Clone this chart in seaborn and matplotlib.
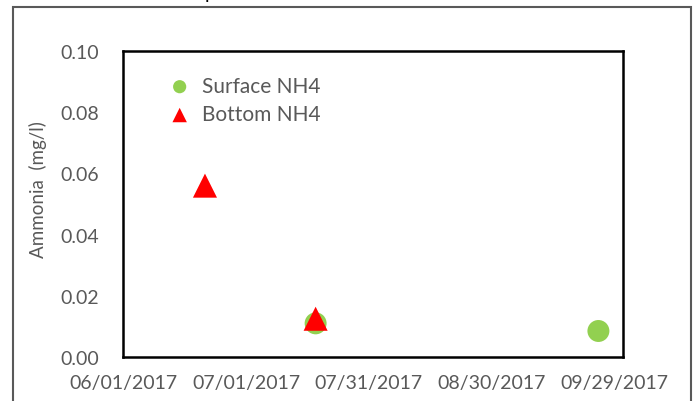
import pandas as pd
import seaborn as sns
import matplotlib.pyplot as plt
import matplotlib.dates as mdates
from matplotlib.patches import Rectangle

surface_dates = ["2017-07-18", "2017-09-25"]
surface_nh4 = [0.011, 0.0085]
bottom_dates = ["2017-06-21", "2017-07-18"]
bottom_nh4 = [0.056, 0.0125]
x_ticks = ["2017-06-01", "2017-07-01", "2017-07-31", "2017-08-30", "2017-09-29"]
y_ticks = [0.00, 0.02, 0.04, 0.06, 0.08, 0.10]

surf = pd.DataFrame({"Date": pd.to_datetime(surface_dates), "NH4": surface_nh4})
bot = pd.DataFrame({"Date": pd.to_datetime(bottom_dates), "NH4": bottom_nh4})

sns.set_theme(style="white")
plt.rcParams['font.family'] = ['Lato', 'DejaVu Sans']
gray = "#595959"

fig = plt.figure(figsize=(6.99, 4.02), dpi=100)
ax = fig.add_axes([123/699, 1-358/402, 500/699, 306/402])

sns.scatterplot(data=surf, x="Date", y="NH4", ax=ax, marker="o", s=250,
                color="#92D050", edgecolor="none", label="Surface NH4", zorder=3)
sns.scatterplot(data=bot, x="Date", y="NH4", ax=ax, marker="^", s=300,
                color="#FF0000", edgecolor="none", label="Bottom NH4", zorder=4)

ax.set_xlim(pd.Timestamp("2017-06-01"), pd.Timestamp("2017-10-01"))
ax.set_ylim(0, 0.10)
ax.set_xticks(pd.to_datetime(x_ticks))
ax.xaxis.set_major_formatter(mdates.DateFormatter("%m/%d/%Y"))
ax.set_yticks(y_ticks)
ax.set_yticklabels([f"{v:.2f}" for v in y_ticks])
ax.tick_params(axis="both", length=0, labelsize=14, labelcolor=gray)
ax.tick_params(axis="y", pad=17)
ax.tick_params(axis="x", pad=12)
ax.set_xlabel("")
ax.set_ylabel("Ammonia  (mg/l)", fontsize=13.5, color=gray)
ax.yaxis.set_label_coords(-0.152, 0.55)

for sp in ax.spines.values():
    sp.set_color("black")
    sp.set_linewidth(1.8)

leg = ax.legend(loc="upper left", bbox_to_anchor=(0.055, 0.945), frameon=False,
                fontsize=15, handletextpad=0.05, markerscale=0.6,
                labelspacing=0.4, borderaxespad=0)
for t in leg.get_texts():
    t.set_color(gray)

# outer chart frame (cut off at the bottom) and clipped title
fig.patches.append(Rectangle((13/699, -0.2), 678/699, 1.2 - 8/402,
                             transform=fig.transFigure, fill=False,
                             edgecolor=gray, linewidth=1.5))
fig.text(205/699, 1 + 1/402, "p", fontsize=14, color="black", va="baseline")

fig.savefig("out.png", dpi=100)
